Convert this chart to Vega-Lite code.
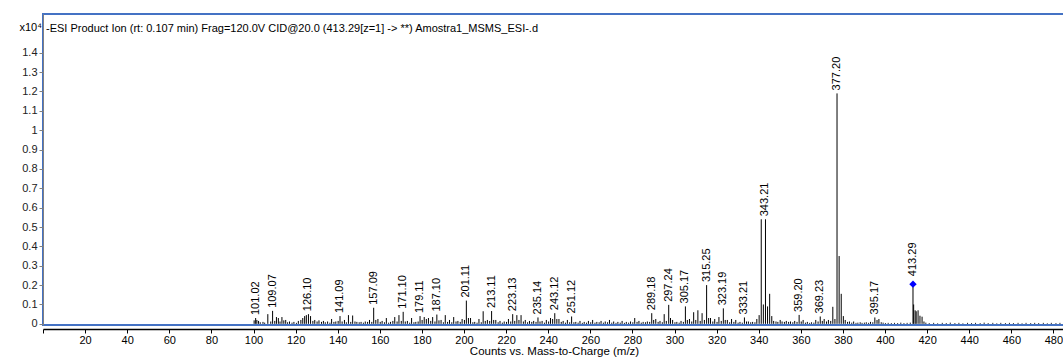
{
  "$schema": "https://vega.github.io/schema/vega-lite/v6.json",
  "width": 1022,
  "height": 311,
  "autosize": {"type": "none"},
  "padding": {"left": 43, "top": 14, "right": 0, "bottom": 33},
  "background": "white",
  "config": {"view": {"stroke": "#4472c4", "strokeWidth": 2}, "font": "Liberation Sans"},
  "title": {"text": "-ESI Product Ion (rt: 0.107 min) Frag=120.0V CID@20.0 (413.29[z=1] -> **) Amostra1_MSMS_ESI-.d", "anchor": "start", "frame": "group", "offset": -13, "baseline": "middle", "dx": 3, "dy": 13, "fontSize": 11, "fontWeight": "normal", "color": "#000", "font": "Liberation Sans"},
  "data": {"values": [
    {"mz":100.3,"i":0.018},{"mz":101.02,"i":0.03,"label":"101.02"},{"mz":101.6,"i":0.02},{"mz":102.4,"i":0.015},{"mz":103.2,"i":0.008},{"mz":104.5,"i":0.01},{"mz":105.3,"i":0.006},{"mz":106.8,"i":0.05},{"mz":108.2,"i":0.012},{"mz":109.07,"i":0.067,"label":"109.07"},
    {"mz":110.1,"i":0.015},{"mz":110.9,"i":0.035},{"mz":111.8,"i":0.03},{"mz":112.6,"i":0.012},{"mz":113.5,"i":0.035},{"mz":114.4,"i":0.018},{"mz":115.3,"i":0.02},{"mz":116.2,"i":0.008},{"mz":117.1,"i":0.012},{"mz":118.3,"i":0.006},
    {"mz":119.2,"i":0.01},{"mz":120.4,"i":0.005},{"mz":121.3,"i":0.015},{"mz":122.5,"i":0.02},{"mz":123.4,"i":0.03},{"mz":124.3,"i":0.04},{"mz":125.1,"i":0.045},{"mz":126.1,"i":0.05,"label":"126.10"},{"mz":127.1,"i":0.04},{"mz":128.2,"i":0.015},
    {"mz":129.1,"i":0.02},{"mz":130.2,"i":0.012},{"mz":131.1,"i":0.018},{"mz":132.3,"i":0.01},{"mz":133.2,"i":0.015},{"mz":134.1,"i":0.008},{"mz":135.2,"i":0.012},{"mz":136.3,"i":0.006},{"mz":137.1,"i":0.025},{"mz":138.2,"i":0.01},
    {"mz":139.1,"i":0.012},{"mz":140.2,"i":0.015},{"mz":141.09,"i":0.04,"label":"141.09"},{"mz":142.1,"i":0.012},{"mz":143.2,"i":0.02},{"mz":144.1,"i":0.008},{"mz":145.1,"i":0.045},{"mz":146.2,"i":0.01},{"mz":147.1,"i":0.043},{"mz":148.2,"i":0.012},
    {"mz":149.1,"i":0.01},{"mz":150.2,"i":0.008},{"mz":151.1,"i":0.01},{"mz":152.2,"i":0.006},{"mz":153.1,"i":0.012},{"mz":154.2,"i":0.01},{"mz":155.1,"i":0.02},{"mz":156.2,"i":0.01},{"mz":157.09,"i":0.083,"label":"157.09"},{"mz":158.1,"i":0.02},
    {"mz":159.1,"i":0.025},{"mz":160.2,"i":0.01},{"mz":161.1,"i":0.015},{"mz":162.2,"i":0.008},{"mz":163.1,"i":0.03},{"mz":164.2,"i":0.006},{"mz":165.1,"i":0.01},{"mz":166.2,"i":0.015},{"mz":167.1,"i":0.035},{"mz":168.2,"i":0.012},
    {"mz":169.1,"i":0.045},{"mz":170.2,"i":0.015},{"mz":171.1,"i":0.062,"label":"171.10"},{"mz":172.1,"i":0.012},{"mz":173.1,"i":0.015},{"mz":174.2,"i":0.006},{"mz":175.1,"i":0.03},{"mz":176.2,"i":0.008},{"mz":177.1,"i":0.01},{"mz":178.2,"i":0.012},
    {"mz":179.11,"i":0.04,"label":"179.11"},{"mz":180.1,"i":0.02},{"mz":181.1,"i":0.035},{"mz":182.1,"i":0.025},{"mz":183.1,"i":0.03},{"mz":184.2,"i":0.015},{"mz":185.1,"i":0.035},{"mz":186.2,"i":0.012},{"mz":187.1,"i":0.048,"label":"187.10"},{"mz":188.1,"i":0.018},
    {"mz":189.1,"i":0.02},{"mz":190.2,"i":0.008},{"mz":191.1,"i":0.045},{"mz":192.2,"i":0.01},{"mz":193.1,"i":0.02},{"mz":194.2,"i":0.008},{"mz":195.1,"i":0.035},{"mz":196.2,"i":0.012},{"mz":197.1,"i":0.015},{"mz":198.2,"i":0.01},
    {"mz":199.1,"i":0.025},{"mz":200.2,"i":0.02},{"mz":201.11,"i":0.12,"label":"201.11"},{"mz":202.1,"i":0.03},{"mz":203.1,"i":0.03},{"mz":204.2,"i":0.008},{"mz":205.1,"i":0.01},{"mz":206.2,"i":0.006},{"mz":207.1,"i":0.025},{"mz":208.2,"i":0.008},
    {"mz":209.1,"i":0.065},{"mz":210.1,"i":0.015},{"mz":211.1,"i":0.02},{"mz":212.2,"i":0.015},{"mz":213.11,"i":0.066,"label":"213.11"},{"mz":214.1,"i":0.02},{"mz":215.1,"i":0.02},{"mz":216.2,"i":0.008},{"mz":217.1,"i":0.015},{"mz":218.2,"i":0.006},
    {"mz":219.1,"i":0.012},{"mz":220.2,"i":0.01},{"mz":221.1,"i":0.025},{"mz":222.2,"i":0.012},{"mz":223.13,"i":0.05,"label":"223.13"},{"mz":224.1,"i":0.015},{"mz":225.1,"i":0.045},{"mz":226.1,"i":0.02},{"mz":227.1,"i":0.045},{"mz":228.2,"i":0.012},
    {"mz":229.1,"i":0.02},{"mz":230.2,"i":0.008},{"mz":231.1,"i":0.015},{"mz":232.2,"i":0.01},{"mz":233.1,"i":0.015},{"mz":234.2,"i":0.01},{"mz":235.14,"i":0.033,"label":"235.14"},{"mz":236.1,"i":0.012},{"mz":237.1,"i":0.015},{"mz":238.2,"i":0.006},
    {"mz":239.1,"i":0.02},{"mz":240.2,"i":0.012},{"mz":241.1,"i":0.03},{"mz":242.1,"i":0.025},{"mz":243.12,"i":0.055,"label":"243.12"},{"mz":244.1,"i":0.025},{"mz":245.1,"i":0.025},{"mz":246.2,"i":0.01},{"mz":247.1,"i":0.015},{"mz":248.2,"i":0.006},
    {"mz":249.1,"i":0.02},{"mz":250.2,"i":0.008},{"mz":251.12,"i":0.038,"label":"251.12"},{"mz":252.2,"i":0.008},{"mz":253.1,"i":0.01},{"mz":254.2,"i":0.006},{"mz":255.1,"i":0.015},{"mz":256.2,"i":0.005},{"mz":257.1,"i":0.01},{"mz":258.2,"i":0.006},
    {"mz":259.1,"i":0.015},{"mz":260.2,"i":0.008},{"mz":261.1,"i":0.02},{"mz":262.2,"i":0.006},{"mz":263.1,"i":0.01},{"mz":264.2,"i":0.008},{"mz":265.1,"i":0.015},{"mz":266.2,"i":0.006},{"mz":267.1,"i":0.012},{"mz":268.2,"i":0.008},
    {"mz":269.1,"i":0.02},{"mz":270.2,"i":0.006},{"mz":271.1,"i":0.012},{"mz":272.2,"i":0.005},{"mz":273.1,"i":0.01},{"mz":274.2,"i":0.006},{"mz":275.1,"i":0.015},{"mz":276.2,"i":0.005},{"mz":277.1,"i":0.01},{"mz":278.2,"i":0.006},
    {"mz":279.1,"i":0.012},{"mz":280.2,"i":0.008},{"mz":281.1,"i":0.03},{"mz":282.2,"i":0.01},{"mz":283.1,"i":0.015},{"mz":284.2,"i":0.006},{"mz":285.1,"i":0.01},{"mz":286.2,"i":0.008},{"mz":287.1,"i":0.012},{"mz":288.2,"i":0.01},
    {"mz":289.18,"i":0.055,"label":"289.18"},{"mz":290.1,"i":0.02},{"mz":291.1,"i":0.025},{"mz":292.2,"i":0.01},{"mz":293.1,"i":0.015},{"mz":294.2,"i":0.008},{"mz":295.1,"i":0.05},{"mz":296.1,"i":0.015},{"mz":297.24,"i":0.098,"label":"297.24"},{"mz":298.1,"i":0.03},
    {"mz":299.1,"i":0.02},{"mz":300.2,"i":0.008},{"mz":301.1,"i":0.01},{"mz":302.2,"i":0.006},{"mz":303.1,"i":0.015},{"mz":304.2,"i":0.01},{"mz":305.17,"i":0.09,"label":"305.17"},{"mz":306.1,"i":0.02},{"mz":307.1,"i":0.025},{"mz":308.2,"i":0.012},
    {"mz":309.1,"i":0.06},{"mz":310.1,"i":0.02},{"mz":311.1,"i":0.07},{"mz":312.2,"i":0.015},{"mz":313.1,"i":0.055},{"mz":314.2,"i":0.02},{"mz":315.25,"i":0.2,"label":"315.25"},{"mz":316.2,"i":0.03},{"mz":317.1,"i":0.03},{"mz":318.2,"i":0.012},
    {"mz":319.1,"i":0.025},{"mz":320.2,"i":0.01},{"mz":321.1,"i":0.035},{"mz":322.2,"i":0.015},{"mz":323.19,"i":0.08,"label":"323.19"},{"mz":324.1,"i":0.02},{"mz":325.1,"i":0.02},{"mz":326.2,"i":0.008},{"mz":327.1,"i":0.025},{"mz":328.2,"i":0.01},
    {"mz":329.1,"i":0.02},{"mz":330.2,"i":0.006},{"mz":331.1,"i":0.01},{"mz":332.2,"i":0.006},{"mz":333.21,"i":0.033,"label":"333.21"},{"mz":334.2,"i":0.012},{"mz":335.1,"i":0.012},{"mz":336.2,"i":0.008},{"mz":337.1,"i":0.01},{"mz":338.2,"i":0.008},
    {"mz":339.1,"i":0.025},{"mz":340.2,"i":0.045},{"mz":341.2,"i":0.54},{"mz":342.2,"i":0.1},{"mz":343.21,"i":0.54,"label":"343.21"},{"mz":344.2,"i":0.09},{"mz":345.2,"i":0.155},{"mz":346.2,"i":0.04},{"mz":347.1,"i":0.015},{"mz":348.2,"i":0.012},
    {"mz":349.1,"i":0.01},{"mz":350.2,"i":0.02},{"mz":351.1,"i":0.012},{"mz":352.2,"i":0.01},{"mz":353.1,"i":0.015},{"mz":354.2,"i":0.01},{"mz":355.1,"i":0.012},{"mz":356.2,"i":0.008},{"mz":357.1,"i":0.015},{"mz":358.2,"i":0.01},
    {"mz":359.2,"i":0.046,"label":"359.20"},{"mz":360.2,"i":0.012},{"mz":361.1,"i":0.02},{"mz":362.2,"i":0.006},{"mz":363.1,"i":0.01},{"mz":364.2,"i":0.005},{"mz":365.1,"i":0.008},{"mz":366.2,"i":0.006},{"mz":367.1,"i":0.02},{"mz":368.2,"i":0.012},
    {"mz":369.23,"i":0.038,"label":"369.23"},{"mz":370.2,"i":0.015},{"mz":371.1,"i":0.025},{"mz":372.2,"i":0.012},{"mz":373.1,"i":0.02},{"mz":374.2,"i":0.015},{"mz":375.2,"i":0.088},{"mz":376.2,"i":0.025},{"mz":377.2,"i":1.19,"label":"377.20"},{"mz":378.2,"i":0.35},
    {"mz":379.2,"i":0.155},{"mz":380.2,"i":0.04},{"mz":381.1,"i":0.02},{"mz":382.2,"i":0.01},{"mz":383.1,"i":0.012},{"mz":384.2,"i":0.006},{"mz":385.1,"i":0.012},{"mz":386.2,"i":0.005},{"mz":387.1,"i":0.006},{"mz":388.2,"i":0.008},
    {"mz":389.1,"i":0.005},{"mz":390.2,"i":0.006},{"mz":391.1,"i":0.008},{"mz":392.2,"i":0.005},{"mz":393.1,"i":0.01},{"mz":394.2,"i":0.008},{"mz":395.17,"i":0.033,"label":"395.17"},{"mz":396.2,"i":0.02},{"mz":397.1,"i":0.025},{"mz":398.2,"i":0.008},
    {"mz":399.1,"i":0.006},{"mz":400.2,"i":0.004},{"mz":401.5,"i":0.005},{"mz":403.0,"i":0.004},{"mz":404.5,"i":0.005},{"mz":406.0,"i":0.004},{"mz":407.5,"i":0.006},{"mz":409.0,"i":0.004},{"mz":410.5,"i":0.005},{"mz":412.0,"i":0.006},
    {"mz":413.29,"i":0.205,"label":"413.29","precursor":true},{"mz":413.6,"i":0.1},{"mz":414.3,"i":0.07},{"mz":414.8,"i":0.065},{"mz":415.7,"i":0.07},{"mz":416.6,"i":0.042},{"mz":417.6,"i":0.037},{"mz":418.5,"i":0.012},{"mz":419.4,"i":0.006},
    {"mz":421.0,"i":0.004},{"mz":423.1,"i":0.005},{"mz":425.0,"i":0.003},{"mz":427.2,"i":0.005},{"mz":429.1,"i":0.004},{"mz":431.0,"i":0.006},{"mz":433.2,"i":0.004},{"mz":435.1,"i":0.005},{"mz":437.0,"i":0.003},{"mz":439.2,"i":0.005},
    {"mz":441.1,"i":0.004},{"mz":443.0,"i":0.005},{"mz":445.2,"i":0.004},{"mz":447.1,"i":0.006},{"mz":449.0,"i":0.004},{"mz":451.2,"i":0.005},{"mz":453.1,"i":0.003},{"mz":455.0,"i":0.005},{"mz":457.2,"i":0.004},{"mz":459.1,"i":0.005},
    {"mz":461.0,"i":0.004},{"mz":463.2,"i":0.005},{"mz":465.1,"i":0.003},{"mz":467.0,"i":0.005},{"mz":469.2,"i":0.004},{"mz":471.1,"i":0.005},{"mz":473.0,"i":0.004},{"mz":475.2,"i":0.005},{"mz":477.1,"i":0.003},{"mz":479.0,"i":0.005},
    {"mz":481.2,"i":0.004},{"mz":483.1,"i":0.005},{"mz":485.0,"i":0.004}
  ]},
  "encoding": {
    "x": {"field": "mz", "type": "quantitative", "scale": {"domain": [0, 485.5], "nice": false, "zero": false},
      "axis": {"title": "Counts vs. Mass-to-Charge (m/z)", "values": [0,20,40,60,80,100,120,140,160,180,200,220,240,260,280,300,320,340,360,380,400,420,440,460,480], "format": "d", "labelExpr": "datum.value == 0 ? '' : datum.label", "offset": 4, "grid": false, "domainColor": "#000", "domainWidth": 1.5, "tickColor": "#000", "tickSize": 4, "labelFontSize": 11, "labelColor": "#000", "labelPadding": 1, "labelFlush": false, "labelOverlap": false, "titleFontSize": 11.5, "titleFontWeight": "normal", "titleColor": "#000", "titlePadding": 0}},
    "y": {"field": "i", "type": "quantitative", "scale": {"domain": [-0.006, 1.6], "nice": false, "zero": false},
      "axis": {"title": "x10⁴", "values": [0,0.1,0.2,0.3,0.4,0.5,0.6,0.7,0.8,0.9,1,1.1,1.2,1.3,1.4], "format": "~g", "grid": false, "domainColor": "#808080", "tickColor": "#808080", "tickSize": 4, "labelFontSize": 11, "labelColor": "#222", "labelPadding": 2, "titleAngle": 0, "titleX": -24, "titleY": 13, "titleAlign": "left", "titleBaseline": "middle", "titleFontSize": 11, "titleFontWeight": "normal", "titleColor": "#000"}}
  },
  "layer": [
    {"mark": {"type": "rule", "color": "#000", "strokeWidth": 1}, "encoding": {"y2": {"datum": 0}}},
    {"transform": [{"filter": "datum.label != null && !datum.precursor"}], "mark": {"type": "text", "angle": 270, "align": "left", "baseline": "middle", "dx": 3, "fontSize": 11, "color": "#000", "font": "Liberation Sans"}, "encoding": {"text": {"field": "label"}}},
    {"transform": [{"filter": "datum.precursor == true"}], "mark": {"type": "text", "angle": 270, "align": "left", "baseline": "middle", "dx": 8, "fontSize": 11, "color": "#000", "font": "Liberation Sans"}, "encoding": {"text": {"field": "label"}}},
    {"transform": [{"filter": "datum.precursor == true"}], "mark": {"type": "point", "shape": "diamond", "filled": true, "color": "#0000ff", "size": 55, "opacity": 1}}
  ]
}
